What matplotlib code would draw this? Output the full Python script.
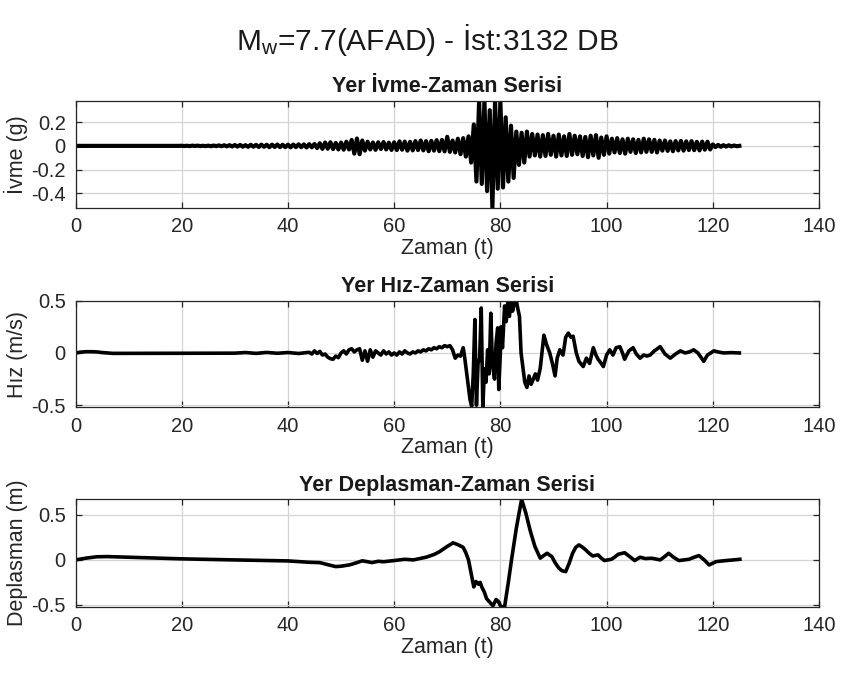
import numpy as np
import matplotlib
matplotlib.use("Agg")
import matplotlib.pyplot as plt

plt.rcParams['font.family'] = ['Liberation Sans', 'DejaVu Sans']
plt.rcParams['axes.unicode_minus'] = False
plt.rcParams['mathtext.fontset'] = 'custom'
plt.rcParams['mathtext.rm'] = 'Liberation Sans'
plt.rcParams['mathtext.it'] = 'Liberation Sans'

# ---------------- data ----------------
main_title = "M$_{\\mathrm{w}}$=7.7(AFAD) - İst:3132 DB"
panel_titles = ["Yer İvme-Zaman Serisi", "Yer Hız-Zaman Serisi", "Yer Deplasman-Zaman Serisi"]
y_labels = ["İvme (g)", "Hız (m/s)", "Deplasman (m)"]
x_label = "Zaman (t)"
x_ticks = [0, 20, 40, 60, 80, 100, 120, 140]
acc_ticks = [-0.4, -0.2, 0, 0.2]
vel_ticks = [-0.5, 0, 0.5]
disp_ticks = [-0.5, 0, 0.5]

# acceleration (g), sampled every 0.5 s from 0 to 125 s
acc_dt = 0.5
acc = [
    0, 0, 0, 0, 0, 0, 0, 0, 0, 0,
    0, 0, 0, 0, 0, 0, 0, 0, 0, 0,
    0, 0, 0, 0, 0, 0, 0, 0, 0, 0,
    0, 0, 0, 0, 0, 0, 0, 0, 0, 0,
    0.001, -0.001, 0.001, -0.002, 0.002, -0.001, 0.002, -0.002, 0.001, -0.002,
    0.002, -0.003, 0.003, -0.002, 0.004, -0.003, 0.005, -0.004, 0.006, -0.005,
    0.007, -0.006, 0.008, -0.007, 0.006, -0.008, 0.009, -0.007, 0.008, -0.009,
    0.010, -0.008, 0.009, -0.011, 0.010, -0.009, 0.011, -0.010, 0.009, -0.011,
    0.010, -0.012, 0.011, -0.010, 0.013, -0.011, 0.012, -0.013, 0.014, -0.012,
    0.016, -0.018, 0.022, -0.025, 0.028, -0.024, 0.030, -0.027, 0.025, -0.030,
    0.028, -0.032, 0.035, -0.030, 0.050, -0.065, 0.062, -0.070, 0.045, -0.040,
    0.035, -0.030, 0.028, -0.033, 0.030, -0.026, 0.032, -0.030, 0.027, -0.034,
    0.030, -0.035, 0.038, -0.032, 0.036, -0.040, 0.034, -0.038, 0.040, -0.035,
    0.045, -0.038, 0.040, -0.045, 0.042, -0.040, 0.048, -0.044, 0.050, -0.046,
    0.076, -0.050, 0.045, -0.055, 0.060, -0.070, 0.065, -0.090, 0.080, -0.140,
    0.180, -0.300, 0.380, -0.320, 0.380, -0.380, 0.300, -0.520, 0.380, -0.360,
    0.380, -0.350, 0.240, -0.300, 0.170, -0.270, 0.120, -0.160, 0.110, -0.140,
    0.120, -0.090, 0.100, -0.080, 0.095, -0.090, 0.090, -0.085, 0.100, -0.075,
    0.085, -0.090, 0.095, -0.080, 0.080, -0.085, 0.100, -0.075, 0.085, -0.070,
    0.080, -0.085, 0.075, -0.095, 0.085, -0.080, 0.090, -0.100, 0.070, -0.075,
    0.080, -0.065, 0.060, -0.055, 0.065, -0.060, 0.055, -0.065, 0.060, -0.050,
    0.055, -0.060, 0.050, -0.055, 0.060, -0.050, 0.055, -0.050, 0.050, -0.055,
    0.045, -0.040, 0.045, -0.042, 0.038, -0.045, 0.040, -0.038, 0.042, -0.040,
    0.038, -0.035, 0.040, -0.036, 0.034, -0.038, 0.036, -0.032, 0.035, -0.030,
    0.012, -0.010, 0.008, -0.008, 0.006, -0.006, 0.005, -0.004, 0.003, -0.003,
    0.0,
]

# velocity (m/s)
vel_t = [0, 1, 2, 3, 4, 5, 6, 7, 10, 20, 30, 32, 34, 36, 38, 40, 42, 44,
         44.5, 45, 45.5, 46, 46.5, 47, 47.5, 48, 48.5, 49, 49.5, 50, 50.5, 51, 51.5, 52,
         52.5, 53, 53.5, 54, 54.5, 55, 55.5, 56, 56.5, 57, 57.5, 58, 58.5, 59, 59.5, 60,
         60.5, 61, 61.5, 62, 62.5, 63, 63.5, 64, 64.5, 65, 65.5, 66, 66.5, 67, 67.5, 68,
         68.5, 69, 69.5, 70, 70.5, 71, 71.5, 72, 72.5, 73, 73.3, 73.8, 74.3, 74.6, 74.9,
         75.2, 75.5, 75.8, 76.1, 76.4, 76.7, 77.0, 77.3, 77.6, 77.9, 78.2, 78.5, 78.9,
         79.2, 79.5, 79.7, 80.0, 80.1, 80.4, 80.8, 81.1, 81.4, 81.7, 82.0, 82.3, 82.6,
         83.0, 83.3, 83.6, 83.9, 84.3, 84.6, 85.0, 85.4, 85.8, 86.2, 86.6, 87.0, 87.5,
         88.2, 88.7, 89.3, 89.8, 90.3, 90.7, 91.2, 91.8, 92.3, 92.8, 93.3, 93.7, 94.3,
         94.8, 95.6, 96.2, 96.8, 97.5, 98.0, 98.4, 99.0, 99.4, 100.0, 100.6, 101.2,
         101.8, 102.5, 103.0, 103.4, 104.2, 105.0, 105.6, 106.3, 107.0, 107.6, 108.2,
         109.0, 110.1, 111.0, 112.0, 113.0, 113.9, 114.8, 115.6, 116.4, 117.2, 118.3,
         119.0, 120.2, 121.0, 122.0, 123.5, 125.0]
vel = [0.0, 0.008, 0.012, 0.012, 0.010, 0.004, 0.0, -0.004, -0.004, -0.003, -0.002,
       0.004, -0.004, 0.005, -0.003, 0.004, -0.005, 0.006,
       -0.010, 0.020, -0.005, 0.015, -0.020, -0.010, -0.040, -0.055, -0.060, -0.030,
       -0.045, 0.0, 0.020, -0.010, 0.030, 0.040,
       0.010, 0.030, 0.040, -0.070, 0.020, -0.080, 0.030, -0.040, 0.020, 0.0, -0.020,
       0.020, -0.010, 0.010, -0.020, 0.0,
       -0.020, 0.010, -0.010, 0.020, 0.0, -0.010, 0.010, 0.0, 0.020, 0.010, 0.030,
       0.020, 0.040, 0.030, 0.050, 0.040,
       0.060, 0.050, 0.070, 0.060, 0.070, 0.030, -0.050, -0.020, -0.030, 0.050, -0.050,
       -0.250, -0.450, -0.510, -0.200,
       0.320, -0.500, -0.100, -0.050, 0.430, -0.520, -0.150, -0.280, 0.030, -0.200,
       0.380, -0.100, -0.250,
       0.100, 0.240, -0.350, 0.0, 0.250, 0.050, 0.450, 0.300, 0.480, 0.350, 0.490,
       0.400, 0.470,
       0.500, 0.420, 0.350, 0.0, -0.160, -0.280, -0.330, -0.220, -0.300, -0.250,
       -0.200, -0.260, -0.150,
       0.170, 0.080, 0.0, -0.100, -0.220, -0.050, 0.030, -0.020, 0.150, 0.190, 0.150,
       0.160, 0.0,
       -0.080, -0.130, -0.050, -0.100, 0.050, -0.020, -0.060, -0.100, -0.130, -0.020,
       0.030, -0.020,
       0.050, 0.060, 0.0, -0.060, 0.020, 0.050, -0.010, -0.050, -0.020, -0.030, -0.020,
       0.020, 0.060, -0.010, -0.050, -0.010, 0.020, 0.0, 0.010, 0.030, 0.0, -0.080,
       -0.020, 0.020, 0.010, 0.0, 0.003, 0.0]

# displacement (m)
disp_t = [0, 2, 4, 6, 10, 20, 30, 40, 44, 46, 48, 49, 50, 51.6, 53, 54, 55, 55.8,
          57, 58, 60, 62, 63.6, 66, 67.5, 68.5, 70, 71.1, 72, 73, 73.5, 74, 74.5, 75,
          75.4, 75.9, 76.2, 76.5, 77, 77.4, 78, 78.6, 79.2, 79.6, 80.1, 80.8, 81.5,
          82.1, 83, 84.0, 84.8, 85.6, 86.5, 87.5, 88.2, 88.8, 89.7, 90.3, 91, 91.6,
          92.3, 93.0, 93.6, 94.2, 94.8, 95.5, 96.1, 96.8, 97.4, 98.4, 99.0, 99.6,
          100.9, 101.5, 102.2, 103.4, 104.3, 105.3, 106.3, 107.3, 108.5, 110.1,
          111.0, 111.7, 112.6, 113.6, 115.5, 116.5, 117.4, 118.4, 119.3, 120.6,
          122, 125.1]
disp = [0.0, 0.020, 0.035, 0.037, 0.030, 0.012, 0.0, -0.011, -0.026, -0.030, -0.060,
        -0.074, -0.070, -0.055, -0.030, -0.010, -0.020, -0.030,
        -0.015, -0.020, -0.007, 0.007, 0.0, 0.030, 0.060, 0.090, 0.150, 0.190, 0.170,
        0.140, 0.080, 0.0, -0.150, -0.300,
        -0.240, -0.270, -0.250, -0.300, -0.360, -0.430, -0.470, -0.510, -0.440, -0.460,
        -0.520, -0.520, -0.250,
        0.0, 0.350, 0.674, 0.520, 0.330, 0.150, 0.020, 0.050, 0.074, 0.037, -0.030,
        -0.090, -0.120,
        -0.130, -0.030, 0.074, 0.140, 0.167, 0.140, 0.110, 0.070, 0.044, 0.056, 0.020,
        -0.007,
        0.007, 0.030, 0.063, 0.080, 0.040, -0.007, 0.030, 0.015, 0.019, 0.0,
        0.040, 0.074, 0.030, -0.007, 0.007, 0.030, 0.048, 0.0, -0.056, -0.019,
        -0.010, 0.007]

# ---------------- figure ----------------
fig = plt.figure(figsize=(8.42, 6.74), dpi=100)
fig.patch.set_facecolor('white')

W, H = 842.0, 674.0
left_px, right_px = 75.5, 819.0
panels_px = [(100.7, 207.7), (300.7, 407.3), (499.3, 606.7)]

acc_arr = np.array(acc)
acc_t = np.arange(len(acc_arr)) * acc_dt
series = [
    (acc_t, acc_arr, acc_ticks, 3.0),
    (np.array(vel_t), np.array(vel), vel_ticks, 2.6),
    (np.array(disp_t), np.array(disp), disp_ticks, 2.6),
]

edge = '#262626'
for i, ((top, bot), (tx, ty, yt, lw)) in enumerate(zip(panels_px, series)):
    ax = fig.add_axes([left_px / W, 1 - bot / H, (right_px - left_px) / W, (bot - top) / H])
    ax.plot(tx, ty, color='black', lw=lw, solid_joinstyle='round')
    ax.set_xlim(0, 140)
    ax.set_ylim(ty.min(), ty.max())
    ax.set_xticks(x_ticks)
    ax.set_yticks(yt)
    ax.set_yticklabels([('%g' % v) for v in yt])
    ax.grid(True, color='#d4d4d4', lw=0.9)
    ax.set_axisbelow(True)
    for s in ax.spines.values():
        s.set_color(edge)
        s.set_linewidth(0.9)
    ax.tick_params(direction='in', length=4, width=0.9, top=True, right=True,
                   labelsize=14.5, colors=edge, labelcolor='#262626', pad=7)
    ax.set_title(panel_titles[i], fontsize=15.5, fontweight='bold', color='#1a1a1a', pad=6)
    ax.set_xlabel(x_label, fontsize=15.5, color='#262626', labelpad=1)
    ax.set_ylabel(y_labels[i], fontsize=15.5, color='#262626', labelpad=2)

fig.text(427 / W, 1 - 40 / H, main_title, ha='center', va='center', fontsize=21.5, color='#1a1a1a')

fig.savefig('out.png', dpi=100)
